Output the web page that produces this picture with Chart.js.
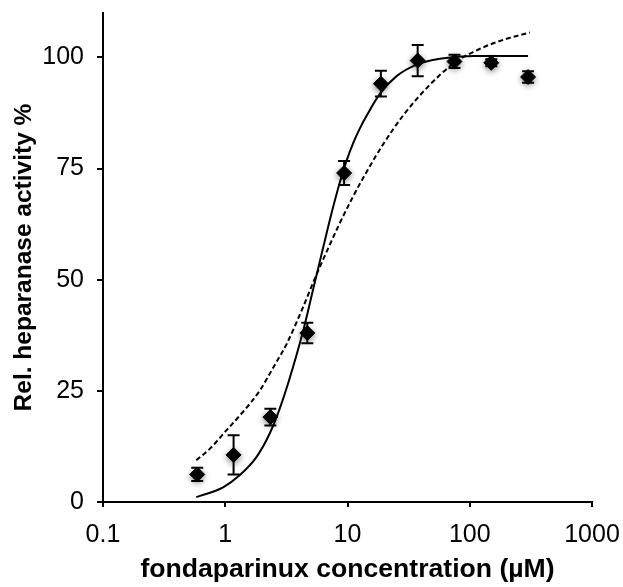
<!DOCTYPE html>
<html>
<head>
<meta charset="utf-8">
<script src="https://cdn.jsdelivr.net/npm/chart.js"></script>
<style>
  body { margin: 0; background: #fff; }
  canvas { display: block; }
</style>
</head>
<body>
<canvas id="heparanaseChart" width="623" height="587"></canvas>
<script>
  // measured points
  const concentration = [0.59, 1.17, 2.34, 4.69, 9.38, 18.75, 37.5, 75, 150, 300];
  const activity = [6.2, 10.6, 19.1, 38.0, 74.0, 94.1, 99.3, 99.1, 98.8, 95.6];
  const activityErr = [1.5, 4.4, 1.9, 2.3, 2.7, 2.9, 3.5, 1.5, 0.8, 1.3];

  // solid fit curve
  const solidX = [0.58, 0.96, 1.31, 1.8, 2.31, 2.79, 3.27, 4.34, 5.2, 5.76, 6.33, 7.41, 8.67, 9.83, 11.15, 12.6, 14.4, 18.4, 25.2, 36.8, 57, 107, 300];
  const solidY = [1.1, 3.3, 6.0, 10.1, 15.4, 21, 26.7, 38.5, 47.5, 52.6, 57.3, 65, 72, 76.8, 80.8, 84, 87, 91.8, 95.8, 98.4, 99.7, 100.3, 100.3];

  // dashed fit curve
  const dashX = [0.58, 0.75, 1.02, 1.4, 1.92, 2.5, 3.17, 4.34, 5.41, 6.8, 8.4, 11, 14.7, 19.6, 28.6, 47, 75, 120, 200, 310];
  const dashY = [9.4, 12, 16.1, 20.3, 25.1, 30.5, 35.5, 43.9, 50.3, 56.5, 62, 68.5, 74.8, 80.5, 87, 93.8, 98.8, 101.9, 104.2, 105.6];

  const xTicks = [0.1, 1, 10, 100, 1000];
  const xTickLabels = ["0.1", "1", "10", "100", "1000"];
  const yTicks = [0, 25, 50, 75, 100];

  const toPoints = (xs, ys) => xs.map((x, i) => ({ x, y: ys[i] }));

  const errorBars = {
    id: "errorBars",
    beforeDatasetDraw(chart, args) {
      if (args.index !== 0) return;
      const ctx = chart.ctx;
      const xs = chart.scales.x, ys = chart.scales.y;
      ctx.save();
      ctx.strokeStyle = "#000";
      ctx.lineWidth = 2;
      concentration.forEach((c, i) => {
        const px = xs.getPixelForValue(c);
        const top = ys.getPixelForValue(activity[i] + activityErr[i]);
        const bot = ys.getPixelForValue(activity[i] - activityErr[i]);
        ctx.beginPath();
        ctx.moveTo(px, top); ctx.lineTo(px, bot);
        ctx.moveTo(px - 6, top); ctx.lineTo(px + 6, top);
        ctx.moveTo(px - 6, bot); ctx.lineTo(px + 6, bot);
        ctx.stroke();
      });
      ctx.restore();
      // soft halo round the markers
      ctx.save();
      ctx.shadowColor = "rgba(0,0,0,0.45)";
      ctx.shadowBlur = 6;
      ctx.shadowOffsetY = 2;
    },
    afterDatasetDraw(chart, args) {
      if (args.index === 0) chart.ctx.restore();
    }
  };

  const font = "'Liberation Sans', Arial, sans-serif";

  new Chart(document.getElementById("heparanaseChart"), {
    type: "scatter",
    data: {
      datasets: [
        {
          label: "data",
          data: toPoints(concentration, activity),
          pointStyle: "rectRot",
          pointRadius: 7.5,
          backgroundColor: "#000",
          borderColor: "#000",
          borderWidth: 1
        },
        {
          label: "fit",
          data: toPoints(solidX, solidY),
          showLine: true,
          pointRadius: 0,
          borderColor: "#000",
          borderWidth: 2,
          cubicInterpolationMode: "monotone"
        },
        {
          label: "fit2",
          data: toPoints(dashX, dashY),
          showLine: true,
          pointRadius: 0,
          borderColor: "#000",
          borderWidth: 2,
          borderDash: [5, 3],
          cubicInterpolationMode: "monotone"
        }
      ]
    },
    options: {
      responsive: false,
      animation: false,
      devicePixelRatio: 1,
      layout: { padding: { top: 13, right: 31, left: 0, bottom: 0 } },
      plugins: { legend: { display: false }, tooltip: { enabled: false } },
      scales: {
        x: {
          type: "logarithmic",
          min: 0.1,
          max: 1000,
          afterBuildTicks: s => { s.ticks = xTicks.map(v => ({ value: v })); },
          afterFit: s => { s.height = 85; s.paddingLeft = 0; s.paddingRight = 0; },
          grid: { drawOnChartArea: false, drawTicks: true, tickLength: 5, color: "#000", lineWidth: 2 },
          border: { color: "#000", width: 2 },
          ticks: {
            callback: (v, i) => xTickLabels[i],
            font: { family: font, size: 25 },
            color: "#000",
            padding: 13,
            maxRotation: 0,
            autoSkip: false
          },
          title: {
            display: true,
            text: "fondaparinux concentration (µM)",
            font: { family: font, size: 26.6, weight: "bold" },
            color: "#000",
            padding: { top: 0, bottom: 1 }
          }
        },
        y: {
          min: 0,
          max: 110,
          afterBuildTicks: s => { s.ticks = yTicks.map(v => ({ value: v })); },
          afterFit: s => { s.width = 103; s.paddingTop = 0; s.paddingBottom = 0; },
          grid: { drawOnChartArea: false, drawTicks: true, tickLength: 6, color: "#000", lineWidth: 2 },
          border: { color: "#000", width: 2 },
          ticks: {
            font: { family: font, size: 25 },
            color: "#000",
            padding: 13
          },
          title: {
            display: true,
            text: "Rel. heparanase activity %",
            font: { family: font, size: 24.5, weight: "bold" },
            color: "#000",
            padding: { top: 10, bottom: 0 }
          }
        }
      }
    },
    plugins: [errorBars]
  });
</script>
</body>
</html>
